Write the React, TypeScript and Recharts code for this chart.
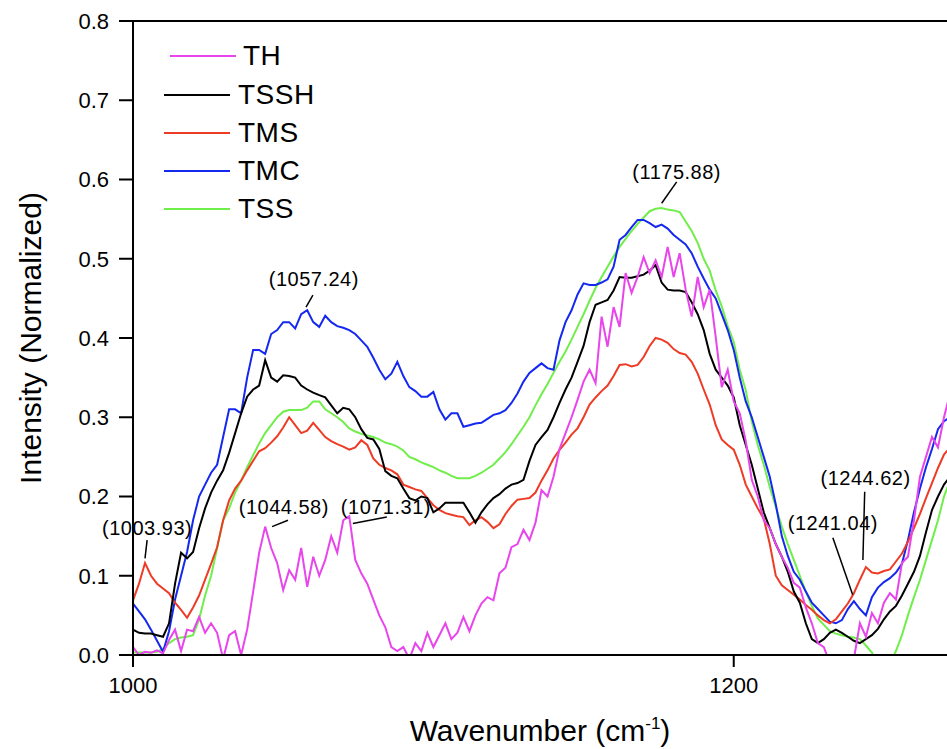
import {
  LineChart,
  Line,
  XAxis,
  YAxis,
  ReferenceLine,
  ReferenceDot,
  Legend,
  Label,
} from "recharts";

const FONT = '"Liberation Sans", Arial, Helvetica, sans-serif';

// wavenumber axis, cm-1
const wavenumbers = [
  1000, 1002, 1004, 1006, 1008, 1010, 1012, 1014, 1016, 1018,
  1020, 1022, 1024, 1026, 1028, 1030, 1032, 1034, 1036, 1038,
  1040, 1042, 1044, 1046, 1048, 1050, 1052, 1054, 1056, 1058,
  1060, 1062, 1064, 1066, 1068, 1070, 1072, 1074, 1076, 1078,
  1080, 1082, 1084, 1086, 1088, 1090, 1092, 1094, 1096, 1098,
  1100, 1102, 1104, 1106, 1108, 1110, 1112, 1114, 1116, 1118,
  1120, 1122, 1124, 1126, 1128, 1130, 1132, 1134, 1136, 1138,
  1140, 1142, 1144, 1146, 1148, 1150, 1152, 1154, 1156, 1158,
  1160, 1162, 1164, 1166, 1168, 1170, 1172, 1174, 1176, 1178,
  1180, 1182, 1184, 1186, 1188, 1190, 1192, 1194, 1196, 1198,
  1200, 1202, 1204, 1206, 1208, 1210, 1212, 1214, 1216, 1218,
  1220, 1222, 1224, 1226, 1228, 1230, 1232, 1234, 1236, 1238,
  1240, 1242, 1244, 1246, 1248, 1250, 1252, 1254, 1256, 1258,
  1260, 1262, 1264, 1266, 1268, 1270, 1272,
];

const th = [
  0.01, 0, 0.004, 0.003, 0.006, 0.002, 0.019, 0.032, 0.005, 0.032,
  0.03, 0.048, 0.028, 0.04, 0.028, -0.005, 0.025, 0.03, 0, 0.032,
  0.08, 0.129, 0.162, 0.135, 0.116, 0.082, 0.107, 0.095, 0.135, 0.086,
  0.124, 0.1, 0.12, 0.15, 0.129, 0.17, 0.175, 0.12, 0.103, 0.09,
  0.07, 0.05, 0.035, 0.01, 0.005, 0.01, -0.005, 0.015, 0.005, 0.028,
  0.01, 0.025, 0.04, 0.02, 0.028, 0.048, 0.03, 0.05, 0.065, 0.073,
  0.069, 0.103, 0.11, 0.136, 0.14, 0.158, 0.145, 0.167, 0.208, 0.2,
  0.225, 0.26, 0.28, 0.3, 0.322, 0.345, 0.36, 0.343, 0.427, 0.389,
  0.439, 0.414, 0.482, 0.457, 0.477, 0.502, 0.482, 0.498, 0.477, 0.515,
  0.477, 0.507, 0.461, 0.427, 0.477, 0.439, 0.461, 0.401, 0.338, 0.36,
  0.32, 0.305, 0.27, 0.221, 0.2, 0.17, 0.16, 0.14, 0.124, 0.11,
  0.091, 0.085, 0.06, 0.04, 0.015, 0.01, -0.01, -0.01, -0.01, -0.01,
  -0.005, 0.04, 0.023, 0.053, 0.04, 0.066, 0.078, 0.07, 0.116, 0.124,
  0.17, 0.225, 0.25, 0.275, 0.262, 0.3, 0.33,
];

const tssh = [
  0.032, 0.028, 0.027, 0.027, 0.025, 0.023, 0.04, 0.09, 0.129, 0.122,
  0.13, 0.16, 0.185, 0.205, 0.22, 0.233, 0.255, 0.28, 0.305, 0.326,
  0.335, 0.34, 0.372, 0.35, 0.345, 0.353, 0.352, 0.35, 0.34, 0.335,
  0.331, 0.328, 0.325, 0.315, 0.305, 0.312, 0.31, 0.3, 0.285, 0.274,
  0.272, 0.26, 0.232, 0.226, 0.223, 0.21, 0.198, 0.195, 0.2, 0.198,
  0.18, 0.185, 0.192, 0.192, 0.192, 0.192, 0.18, 0.167, 0.18, 0.19,
  0.198, 0.203, 0.21, 0.215, 0.217, 0.221, 0.245, 0.265, 0.275, 0.284,
  0.3, 0.318, 0.335, 0.35, 0.37, 0.39, 0.42, 0.442, 0.445, 0.448,
  0.46, 0.477, 0.476, 0.476, 0.478, 0.48, 0.485, 0.492, 0.47, 0.461,
  0.46, 0.46, 0.458, 0.445, 0.43, 0.41, 0.38, 0.36, 0.35, 0.34,
  0.325, 0.29, 0.265, 0.24, 0.21, 0.18, 0.16, 0.14, 0.124, 0.105,
  0.08, 0.066, 0.04, 0.02, 0.015, 0.02, 0.028, 0.032, 0.028, 0.023,
  0.018, 0.015, 0.02, 0.025, 0.033, 0.045, 0.055, 0.062, 0.075, 0.09,
  0.105, 0.125, 0.155, 0.183, 0.2, 0.215, 0.225,
];

const tms = [
  0.069, 0.09, 0.116, 0.1, 0.09, 0.084, 0.078, 0.066, 0.057, 0.047,
  0.06, 0.075, 0.095, 0.115, 0.136, 0.17, 0.195, 0.21, 0.22, 0.233,
  0.245, 0.257, 0.261, 0.268, 0.276, 0.287, 0.3, 0.29, 0.28, 0.283,
  0.293, 0.284, 0.275, 0.27, 0.266, 0.263, 0.259, 0.262, 0.271, 0.265,
  0.248, 0.24, 0.236, 0.233, 0.228, 0.215, 0.212, 0.209, 0.207, 0.198,
  0.189, 0.183, 0.179, 0.177, 0.175, 0.174, 0.164, 0.17, 0.174, 0.168,
  0.16, 0.165, 0.178, 0.188, 0.196, 0.197, 0.198, 0.205, 0.22, 0.233,
  0.248, 0.259, 0.268, 0.278, 0.286, 0.3, 0.316, 0.325, 0.333, 0.34,
  0.352, 0.366, 0.367, 0.364, 0.366, 0.376, 0.39, 0.4, 0.398, 0.394,
  0.386, 0.381, 0.379, 0.37, 0.355, 0.335, 0.316, 0.29, 0.272, 0.265,
  0.259, 0.24, 0.215, 0.2, 0.185, 0.172, 0.14, 0.1, 0.088, 0.082,
  0.076, 0.07, 0.063, 0.057, 0.05, 0.044, 0.04, 0.045, 0.055, 0.065,
  0.078, 0.095, 0.111, 0.104, 0.103, 0.106, 0.108, 0.118, 0.128, 0.143,
  0.16, 0.178, 0.198, 0.217, 0.236, 0.253, 0.262,
];

const tmc = [
  0.065, 0.055, 0.045, 0.032, 0.018, 0.004, 0.03, 0.07, 0.1, 0.13,
  0.17, 0.2, 0.215, 0.23, 0.24, 0.275, 0.31, 0.31, 0.305, 0.35,
  0.385, 0.385, 0.38, 0.405, 0.41, 0.42, 0.42, 0.412, 0.43, 0.435,
  0.42, 0.414, 0.428, 0.42, 0.415, 0.413, 0.41, 0.405, 0.397, 0.389,
  0.375, 0.36, 0.348, 0.355, 0.37, 0.352, 0.338, 0.333, 0.326, 0.326,
  0.332, 0.31, 0.297, 0.305, 0.305, 0.288, 0.29, 0.292, 0.293, 0.298,
  0.303, 0.305, 0.309, 0.318, 0.33, 0.345, 0.356, 0.362, 0.368, 0.362,
  0.36, 0.397, 0.42, 0.435, 0.455, 0.469, 0.467, 0.467, 0.47, 0.474,
  0.49, 0.524, 0.53, 0.54, 0.549, 0.549, 0.545, 0.54, 0.543, 0.538,
  0.53, 0.524, 0.518, 0.507, 0.49, 0.475, 0.461, 0.45, 0.43, 0.41,
  0.385, 0.35, 0.32, 0.3, 0.275, 0.25, 0.225, 0.19, 0.15, 0.125,
  0.105, 0.095, 0.08, 0.066, 0.058, 0.05, 0.042, 0.04, 0.044, 0.058,
  0.068, 0.058, 0.05, 0.073, 0.085, 0.092, 0.097, 0.104, 0.115, 0.145,
  0.18, 0.21, 0.237, 0.26, 0.285, 0.295, 0.3,
];

const tss = [
  0.003, 0.003, 0.003, 0.003, 0.004, 0.008, 0.015, 0.02, 0.022, 0.023,
  0.025, 0.045, 0.075, 0.1, 0.135, 0.17, 0.185, 0.205, 0.22, 0.237,
  0.252, 0.267, 0.28, 0.29, 0.3, 0.307, 0.309, 0.309, 0.309, 0.312,
  0.32, 0.32, 0.31, 0.305, 0.3, 0.294, 0.286, 0.282, 0.279, 0.277,
  0.275, 0.272, 0.268, 0.266, 0.263, 0.258, 0.25, 0.247, 0.243, 0.24,
  0.237, 0.233, 0.23, 0.226, 0.223, 0.223, 0.223, 0.226, 0.23, 0.235,
  0.24, 0.248, 0.256, 0.266, 0.277, 0.288, 0.3, 0.315, 0.329, 0.342,
  0.356, 0.37, 0.383, 0.398, 0.414, 0.43, 0.447, 0.463, 0.477, 0.49,
  0.503, 0.515, 0.525, 0.535, 0.544, 0.552, 0.56, 0.563, 0.564, 0.562,
  0.561, 0.559, 0.547, 0.535, 0.52, 0.5, 0.485, 0.46, 0.44, 0.415,
  0.395, 0.36, 0.334, 0.295, 0.265, 0.24, 0.212, 0.187, 0.162, 0.14,
  0.12, 0.1, 0.08, 0.062, 0.046, 0.038, 0.03, 0.027, 0.025, 0.023,
  0.022, 0.02, 0.012, 0.003, -0.01, -0.02, -0.01, 0.005, 0.025, 0.05,
  0.073, 0.095, 0.12, 0.145, 0.17, 0.2, 0.22,
];

const yTicks = [0, 0.1, 0.2, 0.3, 0.4, 0.5, 0.6, 0.7, 0.8];
const xTicks = [1000, 1200];

// legend order
const series = [
  { key: "TH", values: th, color: "#e845ec" },
  { key: "TSSH", values: tssh, color: "#000000" },
  { key: "TMS", values: tms, color: "#ee3b26" },
  { key: "TMC", values: tmc, color: "#1428f0" },
  { key: "TSS", values: tss, color: "#70ee4a" },
];
// drawing order, bottom to top
const drawOrder = ["TSS", "TMC", "TMS", "TSSH", "TH"];

// peak labels: text position and leader line, in data units
const peakLabels = [
  { text: "(1003.93)", tx: 1004.7, ty: 0.16, x1: 1004.7, y1: 0.145, x2: 1004.0, y2: 0.122 },
  { text: "(1044.58)", tx: 1050.2, ty: 0.187, x1: 1051.6, y1: 0.17, x2: 1046.3, y2: 0.162 },
  { text: "(1071.31)", tx: 1084.2, ty: 0.187, x1: 1084.5, y1: 0.174, x2: 1073.2, y2: 0.166 },
  { text: "(1057.24)", tx: 1060.2, ty: 0.474, x1: 1059.9, y1: 0.454, x2: 1057.6, y2: 0.439 },
  { text: "(1175.88)", tx: 1181.0, ty: 0.609, x1: 1181.0, y1: 0.597, x2: 1176.0, y2: 0.57 },
  { text: "(1244.62)", tx: 1243.9, ty: 0.223, x1: 1243.6, y1: 0.206, x2: 1243.0, y2: 0.12 },
  { text: "(1241.04)", tx: 1233.0, ty: 0.167, x1: 1233.0, y1: 0.148, x2: 1239.6, y2: 0.076 },
];

const data = wavenumbers.map((w, i) => {
  const row: Record<string, number> = { w };
  series.forEach((s) => {
    row[s.key] = s.values[i];
  });
  return row;
});

function LegendBox() {
  return (
    <div style={{ fontFamily: FONT, color: "#000" }}>
      {series.map((s, i) => (
        <div
          key={s.key}
          style={{ display: "flex", alignItems: "center", height: i === 0 ? 41 : 38 }}
        >
          <div
            style={{
              width: 66,
              height: 2,
              background: s.color,
              marginLeft: i === 0 ? 6 : 0,
              marginRight: i === 0 ? 7 : 8,
            }}
          />
          <span style={{ fontSize: 28, lineHeight: 1, letterSpacing: 0.5 }}>{s.key}</span>
        </div>
      ))}
    </div>
  );
}

export default function App() {
  return (
    <div style={{ position: "absolute", left: 0, top: 0, background: "#fff" }}>
      <LineChart
        width={947}
        height={749}
        data={data}
        margin={{ top: 21, right: 0, left: 0, bottom: 34 }}
      >
        <XAxis
          dataKey="w"
          type="number"
          domain={[1000, 1271]}
          ticks={xTicks}
          allowDataOverflow
          height={60}
          tickSize={12}
          tickMargin={10}
          axisLine={{ stroke: "#000", strokeWidth: 2 }}
          tickLine={{ stroke: "#000", strokeWidth: 2 }}
          tick={{ fill: "#000", fontSize: 22, fontFamily: FONT }}
        >
          <Label
            content={({ viewBox }: any) => (
              <text
                x={viewBox.x + viewBox.width / 2}
                y={viewBox.y + 86}
                textAnchor="middle"
                fontSize={30}
                fontFamily={FONT}
                fill="#000"
              >
                Wavenumber (cm
                <tspan fontSize={17} dy={-12}>
                  -1
                </tspan>
                <tspan dy={12}>)</tspan>
              </text>
            )}
          />
        </XAxis>
        <YAxis
          type="number"
          domain={[0, 0.8]}
          ticks={yTicks}
          allowDataOverflow
          width={133}
          tickSize={14}
          tickMargin={10}
          tickFormatter={(v: number) => v.toFixed(1)}
          axisLine={{ stroke: "#000", strokeWidth: 2 }}
          tickLine={{ stroke: "#000", strokeWidth: 2 }}
          tick={{ fill: "#000", fontSize: 22, fontFamily: FONT }}
        >
          <Label
            content={({ viewBox }: any) => {
              const cx = 30;
              const cy = viewBox.y + viewBox.height / 2;
              return (
                <text
                  x={cx}
                  y={cy}
                  transform={`rotate(-90 ${cx} ${cy})`}
                  textAnchor="middle"
                  dominantBaseline="central"
                  fontSize={30}
                  fontFamily={FONT}
                  fill="#000"
                >
                  Intensity (Normalized)
                </text>
              );
            }}
          />
        </YAxis>

        {/* top frame */}
        <ReferenceLine y={0.8} stroke="#000" strokeWidth={2} />

        {drawOrder.map((k) => {
          const s = series.find((x) => x.key === k)!;
          return (
            <Line
              key={k}
              type="linear"
              dataKey={k}
              stroke={s.color}
              strokeWidth={2}
              dot={false}
              isAnimationActive={false}
            />
          );
        })}

        {peakLabels.map((p) => (
          <ReferenceLine
            key={"l" + p.text}
            segment={[
              { x: p.x1, y: p.y1 },
              { x: p.x2, y: p.y2 },
            ]}
            stroke="#000"
            strokeWidth={1.5}
          />
        ))}
        {peakLabels.map((p) => (
          <ReferenceDot
            key={"t" + p.text}
            x={p.tx}
            y={p.ty}
            r={0}
            fill="none"
            stroke="none"
            label={{
              content: ({ viewBox }: any) => (
                <text
                  x={viewBox.x + viewBox.width / 2}
                  y={viewBox.y + viewBox.height / 2}
                  textAnchor="middle"
                  dominantBaseline="central"
                  fontSize={20}
                  letterSpacing={0.5}
                  fontFamily={FONT}
                  fill="#000"
                >
                  {p.text}
                </text>
              ),
            }}
          />
        ))}

        <Legend
          layout="vertical"
          align="center"
          verticalAlign="middle"
          content={() => <LegendBox />}
          wrapperStyle={{ left: 164, top: 35, width: "auto", height: "auto" }}
        />
      </LineChart>
    </div>
  );
}
